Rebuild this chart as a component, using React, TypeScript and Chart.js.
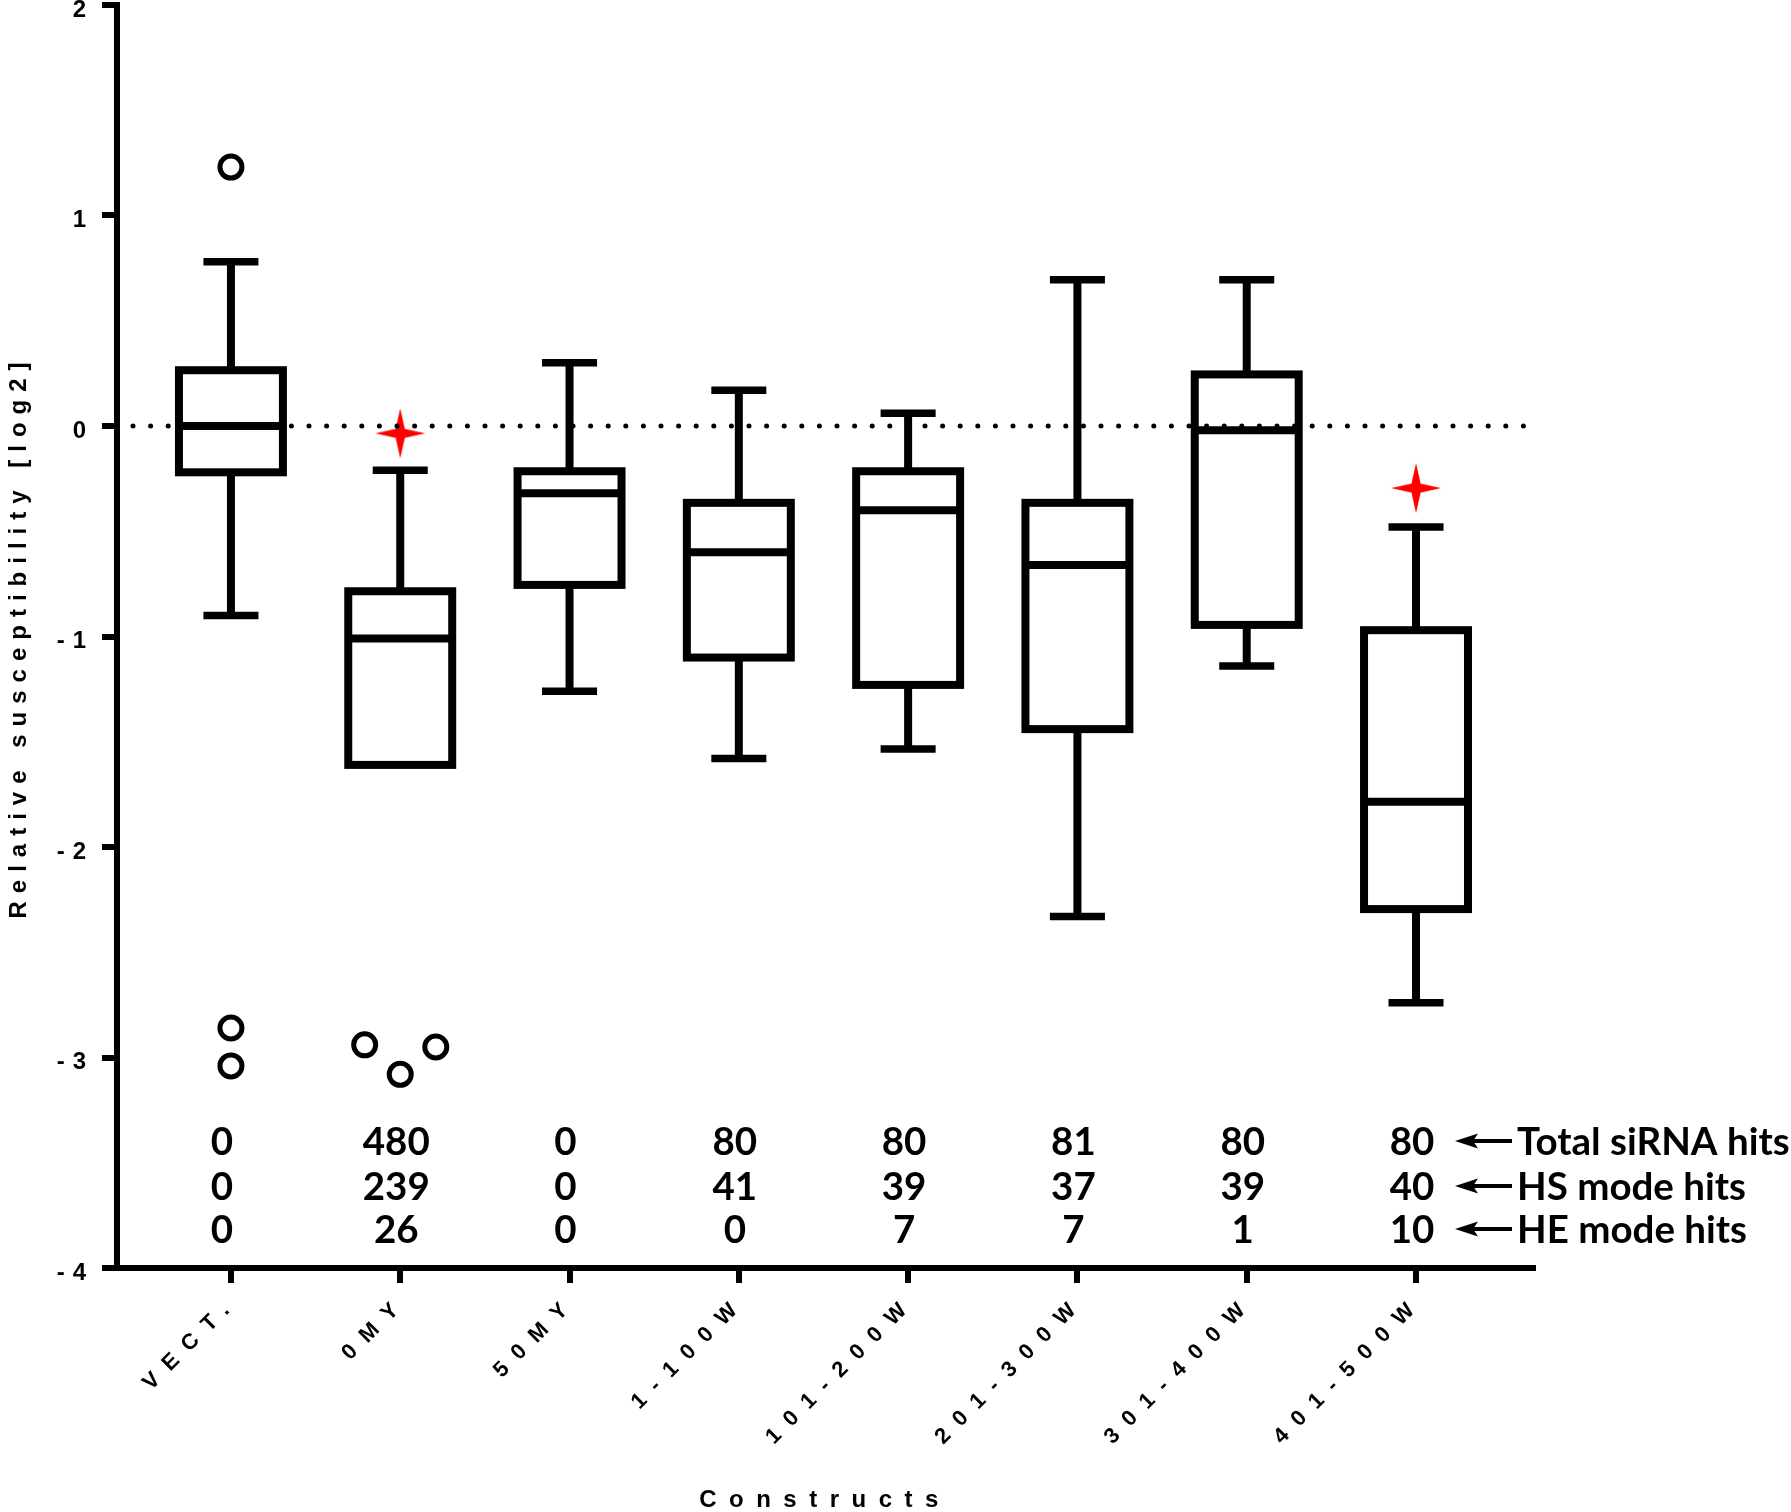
import React, { useEffect, useRef } from 'react';
import { Chart, registerables } from 'chart.js';

Chart.register(...registerables);

// ---------- data ----------
const categories = ['VECT.', '0MY', '50MY', '1-100W', '101-200W', '201-300W', '301-400W', '401-500W'];
const whiskerHigh = [0.78, -0.21, 0.30, 0.17, 0.06, 0.695, 0.695, -0.48];
const q3 = [0.265, -0.785, -0.215, -0.365, -0.215, -0.365, 0.245, -0.97];
const median = [0.0, -1.01, -0.32, -0.60, -0.40, -0.66, -0.02, -1.785];
const q1 = [-0.22, -1.61, -0.755, -1.10, -1.23, -1.44, -0.945, -2.295];
const whiskerLow = [-0.90, -1.61, -1.26, -1.58, -1.535, -2.33, -1.14, -2.74];

const outlierX = [0, 0, 0, 0.79, 1, 1.21];
const outlierY = [1.23, -2.86, -3.04, -2.94, -3.08, -2.95];

const starX = [1, 7];
const starY = [-0.035, -0.295];

const totalHits = [0, 480, 0, 80, 80, 81, 80, 80];
const hsHits = [0, 239, 0, 41, 39, 37, 39, 40];
const heHits = [0, 26, 0, 0, 7, 7, 1, 10];
const hitLabels = ['Total siRNA hits', 'HS mode hits', 'HE mode hits'];

const yTitle = 'Relative susceptibility [log2]';
const xTitle = 'Constructs';

// ---------- layout constants ----------
const ROW_VALUES = [-3.397, -3.61, -3.815];
const BOX_HALF = 0.307; // in category units
const CAP_HALF = 0.1625;
const AXIS_FONT = 'Liberation Sans, Arial, Helvetica, sans-serif';

const setSpacing = (ctx: any, v: string) => {
  if ('letterSpacing' in ctx) ctx.letterSpacing = v;
};

const boxPlugin = {
  id: 'boxplotDraw',
  beforeDraw(chart: any) {
    setSpacing(chart.ctx, '8px');
  },
  afterDatasetsDraw(chart: any) {
    const { ctx, scales } = chart;
    const x = scales.x;
    const y = scales.y;
    const unit = x.getPixelForValue(1) - x.getPixelForValue(0);
    ctx.save();
    ctx.strokeStyle = '#000';
    ctx.lineCap = 'butt';
    ctx.lineJoin = 'miter';
    for (let i = 0; i < categories.length; i++) {
      const cx = x.getPixelForValue(i);
      const yHi = y.getPixelForValue(whiskerHigh[i]);
      const yQ3 = y.getPixelForValue(q3[i]);
      const yMed = y.getPixelForValue(median[i]);
      const yQ1 = y.getPixelForValue(q1[i]);
      const yLo = y.getPixelForValue(whiskerLow[i]);
      const bh = unit * BOX_HALF;
      const ch = unit * CAP_HALF;
      ctx.lineWidth = 8;
      ctx.beginPath();
      ctx.moveTo(cx, yHi);
      ctx.lineTo(cx, yQ3);
      ctx.moveTo(cx, yQ1);
      ctx.lineTo(cx, yLo);
      ctx.stroke();
      ctx.lineWidth = 7.5;
      ctx.beginPath();
      ctx.moveTo(cx - ch, yHi);
      ctx.lineTo(cx + ch, yHi);
      if (yLo - yQ1 > 1) {
        ctx.moveTo(cx - ch, yLo);
        ctx.lineTo(cx + ch, yLo);
      }
      ctx.stroke();
      ctx.lineWidth = 8;
      ctx.strokeRect(cx - bh, yQ3, 2 * bh, yQ1 - yQ3);
      ctx.beginPath();
      ctx.moveTo(cx - bh, yMed);
      ctx.lineTo(cx + bh, yMed);
      ctx.stroke();
    }
    // dotted reference line at 0
    const y0 = y.getPixelForValue(0);
    ctx.lineWidth = 5;
    ctx.lineCap = 'round';
    ctx.setLineDash([0, 17.6]);
    ctx.beginPath();
    ctx.moveTo(x.left + 16, y0);
    ctx.lineTo(x.right - 2, y0);
    ctx.stroke();
    ctx.restore();
    setSpacing(ctx, '12.5px');
  },
  afterDraw(chart: any) {
    const { ctx, scales } = chart;
    const x = scales.x;
    const y = scales.y;
    setSpacing(ctx, '0px');
    ctx.save();
    ctx.fillStyle = '#000';
    ctx.strokeStyle = '#000';
    ctx.font = 'bold 38.5px Lato, "Open Sans", sans-serif';
    ctx.textBaseline = 'alphabetic';
    const rows = [totalHits, hsHits, heHits];
    const lastX = x.getPixelForValue(categories.length - 1);
    rows.forEach((row, r) => {
      const cy = y.getPixelForValue(ROW_VALUES[r]);
      ctx.textAlign = 'center';
      row.forEach((n, i) => {
        ctx.fillText(String(n), x.getPixelForValue(i) + (i === 0 ? -9 : -4), cy + 14);
      });
      // arrow
      const tip = lastX + 39;
      const end = lastX + 96;
      ctx.lineWidth = 4;
      ctx.beginPath();
      ctx.moveTo(tip + 16, cy);
      ctx.lineTo(end, cy);
      ctx.stroke();
      ctx.beginPath();
      ctx.moveTo(tip, cy);
      ctx.lineTo(tip + 23, cy - 7.5);
      ctx.lineTo(tip + 18, cy);
      ctx.lineTo(tip + 23, cy + 7.5);
      ctx.closePath();
      ctx.fill();
      ctx.textAlign = 'left';
      ctx.fillText(hitLabels[r], lastX + 101, cy + 14);
    });
    ctx.restore();
  },
};

function makeStar(): HTMLCanvasElement {
  const c = document.createElement('canvas');
  c.width = 52;
  c.height = 52;
  const g = c.getContext('2d')!;
  const cx = 26;
  const cy = 26;
  const R = 25;
  const r = 6.5;
  g.fillStyle = '#ff0000';
  g.beginPath();
  for (let k = 0; k < 8; k++) {
    const ang = -Math.PI / 2 + (k * Math.PI) / 4;
    const rad = k % 2 === 0 ? R : r;
    const px = cx + rad * Math.cos(ang);
    const py = cy + rad * Math.sin(ang);
    if (k === 0) g.moveTo(px, py);
    else g.lineTo(px, py);
  }
  g.closePath();
  g.fill();
  return c;
}

export default function App() {
  const ref = useRef<HTMLCanvasElement>(null);
  useEffect(() => {
    const canvas = ref.current;
    if (!canvas) return;
    document.body.style.margin = '0';
    const star = makeStar();
    const chart = new Chart(canvas, {
      type: 'scatter',
      data: {
        datasets: [
          {
            label: 'Outliers',
            data: outlierX.map((v, i) => ({ x: v, y: outlierY[i] })),
            pointStyle: 'circle',
            pointRadius: 11,
            pointHoverRadius: 11,
            pointBorderWidth: 5,
            pointBorderColor: '#000',
            pointBackgroundColor: 'rgba(255,255,255,0)',
          },
          {
            label: 'Significant',
            data: starX.map((v, i) => ({ x: v, y: starY[i] })),
            pointStyle: star as any,
            pointRadius: 24,
            pointHoverRadius: 24,
            pointBackgroundColor: '#ff0000',
            pointBorderColor: '#ff0000',
          },
        ],
      },
      options: {
        responsive: false,
        animation: false,
        events: [],
        layout: { autoPadding: false, padding: { left: 0, top: 5, right: 258, bottom: 0 } },
        plugins: {
          legend: { display: false },
          tooltip: { enabled: false },
        },
        scales: {
          x: {
            type: 'linear',
            min: -0.673,
            max: 7.691,
            offset: false,
            grid: {
              display: true,
              drawOnChartArea: false,
              drawTicks: true,
              tickLength: 15,
              tickWidth: 6,
              tickColor: '#000',
              color: '#000',
              lineWidth: 6,
              offset: false,
              z: 1,
            },
            border: { display: true, color: '#000', width: 6, z: 1 },
            ticks: {
              stepSize: 1,
              includeBounds: false,
              autoSkip: false,
              minRotation: 45,
              maxRotation: 45,
              padding: 6,
              labelOffset: 4,
              color: '#000',
              z: 1,
              font: { family: AXIS_FONT, size: 22, weight: 'bold' },
              callback: (v: any) => (Number.isInteger(v) && categories[v] !== undefined ? categories[v] : ''),
            },
            title: {
              display: true,
              text: xTitle,
              color: '#000',
              font: { family: AXIS_FONT, size: 24, weight: 'bold', lineHeight: 1 },
              padding: { top: 0, bottom: 0 },
            },
            afterFit: (s: any) => {
              s.height = 244;
              s.paddingLeft = 0;
              s.paddingRight = 0;
            },
          } as any,
          y: {
            type: 'linear',
            min: -4,
            max: 2,
            grid: {
              display: true,
              drawOnChartArea: false,
              drawTicks: true,
              tickLength: 15,
              tickWidth: 6,
              tickColor: '#000',
              color: '#000',
              lineWidth: 6,
            },
            border: { display: true, color: '#000', width: 6 },
            ticks: {
              stepSize: 1,
              padding: 8,
              labelOffset: 5,
              color: '#000',
              font: { family: AXIS_FONT, size: 24, weight: 'bold' },
            },
            title: {
              display: true,
              text: yTitle,
              color: '#000',
              font: { family: AXIS_FONT, size: 24, weight: 'bold', lineHeight: 1 },
              padding: { top: 7, bottom: 0 },
            },
            afterFit: (s: any) => {
              s.width = 117;
              s.paddingTop = 0;
              s.paddingBottom = 0;
            },
          } as any,
        },
      },
      plugins: [boxPlugin as any],
    });
    return () => chart.destroy();
  }, []);
  return (
    <div style={{ position: 'absolute', left: 0, top: 0, width: 1791, height: 1512, background: '#fff' }}>
      <canvas ref={ref} width={1791} height={1512} style={{ display: 'block', width: 1791, height: 1512 }} />
    </div>
  );
}
